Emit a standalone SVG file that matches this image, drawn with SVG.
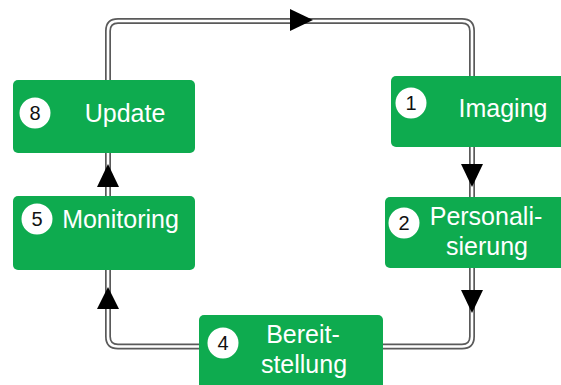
<svg xmlns="http://www.w3.org/2000/svg" width="561" height="385" viewBox="0 0 561 385">
<style>
.o{fill:none;stroke:#5a5a5a;stroke-width:6}
.i{fill:none;stroke:#ffffff;stroke-width:2.6}
.ah{fill:#000}
.box{fill:#0eab4f}
.badge{fill:#fff}
.num{font-family:"Liberation Sans",Arial,sans-serif;font-size:20px;fill:#111;text-anchor:middle}
.lbl{font-family:"Liberation Sans",Arial,sans-serif;font-size:25px;fill:#fff;text-anchor:middle}
</style>
<rect width="561" height="385" fill="#fff"/>
<g id="connectors">
<path class="o" d="M199 346.5 H118 Q108 346.5 108 336.5 V270 M108 196 V153 M108 80 V31 Q108 21 118 21 H462 Q472 21 472 31 V76 M472 147 V197 M472 268 V336.5 Q472 346.5 462 346.5 H383"/>
<path class="i" d="M199 346.5 H118 Q108 346.5 108 336.5 V270 M108 196 V153 M108 80 V31 Q108 21 118 21 H462 Q472 21 472 31 V76 M472 147 V197 M472 268 V336.5 Q472 346.5 462 346.5 H383"/>
<polygon class="ah" points="313,20 290,9 290,31"/>
<polygon class="ah" points="472,187 461,164 483,164"/>
<polygon class="ah" points="472,313 461,290 483,290"/>
<polygon class="ah" points="108,287 97,309 119,309"/>
<polygon class="ah" points="108,164 97,187 119,187"/>
</g>
<g id="node-update">
<rect class="box" x="13" y="80" width="182" height="73" rx="5"/>
<circle class="badge" cx="35" cy="113" r="15.5"/>
<text class="num" x="35" y="120">8</text>
<text class="lbl" x="125" y="122">Update</text>
</g>
<g id="node-imaging">
<rect class="box" x="391" y="76" width="180" height="71" rx="5"/>
<circle class="badge" cx="411" cy="103" r="15.5"/>
<text class="num" x="411" y="110">1</text>
<text class="lbl" x="503" y="117">Imaging</text>
</g>
<g id="node-personalisierung">
<rect class="box" x="385" y="197" width="186" height="71" rx="5"/>
<circle class="badge" cx="404" cy="223" r="15.5"/>
<text class="num" x="404" y="230">2</text>
<text class="lbl" x="486" y="225">Personali-</text>
<text class="lbl" x="487" y="255">sierung</text>
</g>
<g id="node-bereitstellung">
<rect class="box" x="199" y="315" width="184" height="80" rx="5"/>
<circle class="badge" cx="223" cy="343" r="15.5"/>
<text class="num" x="223" y="350">4</text>
<text class="lbl" x="303" y="343">Bereit-</text>
<text class="lbl" x="304" y="373">stellung</text>
</g>
<g id="node-monitoring">
<rect class="box" x="13" y="196" width="182" height="74" rx="5"/>
<circle class="badge" cx="37" cy="219" r="15.5"/>
<text class="num" x="37" y="226">5</text>
<text class="lbl" x="120.5" y="228">Monitoring</text>
</g>
</svg>
